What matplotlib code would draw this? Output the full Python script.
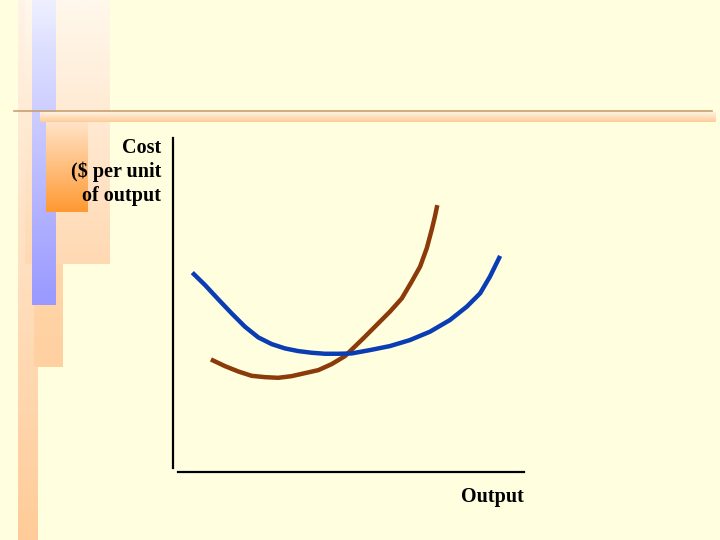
import numpy as np
import matplotlib
matplotlib.use("Agg")
import matplotlib.pyplot as plt
from matplotlib.colors import to_rgba

# ---- data (output quantity vs cost per unit) ----
blue_q = [0.55, 0.91, 1.29, 1.67, 2.05, 2.43, 2.81, 3.19, 3.57, 3.95, 4.33, 4.71,
          5.09, 5.61, 6.18, 6.75, 7.32, 7.89, 8.37, 8.75, 9.03, 9.32]
blue_c = [5.97, 5.60, 5.17, 4.75, 4.35, 4.03, 3.83, 3.70, 3.62, 3.57, 3.54, 3.54,
          3.55, 3.65, 3.77, 3.95, 4.20, 4.55, 4.95, 5.35, 5.85, 6.47]
brown_q = [1.08, 1.48, 1.86, 2.24, 2.62, 3.00, 3.38, 3.76, 4.14, 4.52, 4.90, 5.42,
           5.80, 6.18, 6.52, 6.80, 7.04, 7.23, 7.37, 7.46, 7.53]
brown_c = [3.37, 3.17, 3.01, 2.88, 2.84, 2.82, 2.87, 2.96, 3.05, 3.23, 3.47, 4.00,
           4.40, 4.80, 5.20, 5.70, 6.15, 6.70, 7.25, 7.64, 7.99]
y_label_lines = ["Cost", "($ per unit", "of output"]
x_label = "Output"

W, H = 720, 540
BG = "#FFFFE0"
fig = plt.figure(figsize=(7.2, 5.4), dpi=100, facecolor=BG)

# ---- background decoration axes (pixel coordinates) ----
bg = fig.add_axes([0, 0, 1, 1])
bg.set_xlim(0, W)
bg.set_ylim(H, 0)
bg.axis("off")
bg.set_facecolor(BG)

def grad(x0, x1, y0, y1, ctop, cbot, z=1):
    a = np.array(to_rgba(ctop))
    b = np.array(to_rgba(cbot))
    t = np.linspace(0, 1, 64)[:, None]
    arr = (a[None, :] * (1 - t) + b[None, :] * t)[:, None, :]
    bg.imshow(arr, extent=(x0, x1, y1, y0), origin="upper", aspect="auto",
              interpolation="bilinear", zorder=z)

grad(18, 38, 0, 540, "#FFF3E6", "#FFCC99", z=1)
grad(25, 110, 0, 264, "#FFF8EC", "#FFD9B3", z=2)
grad(34, 63, 264, 367, "#FFD6AA", "#FFD0A0", z=2)
grad(32, 56, 0, 30, "#EEF0FF", "#E4E6FF", z=3)
grad(32, 56, 30, 305, "#E2E4FF", "#9999FF", z=3)
grad(46, 88, 118, 212, "#FFE6CC", "#FF9933", z=4)
grad(40, 716, 112, 122, "#FFF2E0", "#FFCC99", z=4)
bg.plot([14, 712], [111, 111], color="#C8A070", lw=1.2, zorder=5)
bg.set_xlim(0, W)
bg.set_ylim(H, 0)

# ---- chart axes ----
L, R, T, B = 173, 524, 138, 472
ax = fig.add_axes([L / W, 1 - B / H, (R - L) / W, (B - T) / H])
ax.patch.set_alpha(0)
ax.set_xlim(0, 10)
ax.set_ylim(0, 10)
for s in ["top", "right"]:
    ax.spines[s].set_visible(False)
ax.spines["left"].set_linewidth(1.6)
ax.spines["bottom"].set_linewidth(1.6)
ax.spines["left"].set_bounds(0.12, 10)
ax.spines["bottom"].set_bounds(0.15, 10)
ax.set_xticks([])
ax.set_yticks([])

ax.plot(brown_q, brown_c, color="#8B3A0A", lw=3.2, solid_joinstyle="round",
        solid_capstyle="butt")
ax.plot(blue_q, blue_c, color="#0A3CB4", lw=3.2, solid_joinstyle="round",
        solid_capstyle="butt")

font = dict(family="Liberation Serif", weight="bold", fontsize=14.5, color="black")
for i, line in enumerate(y_label_lines):
    fig.text(161 / W, 1 - (148 + 24 * i) / H, line, ha="right", va="center", **font)
fig.text(524 / W, 1 - 497 / H, x_label, ha="right", va="center", **font)

fig.savefig("out.png", dpi=100, facecolor=BG)
